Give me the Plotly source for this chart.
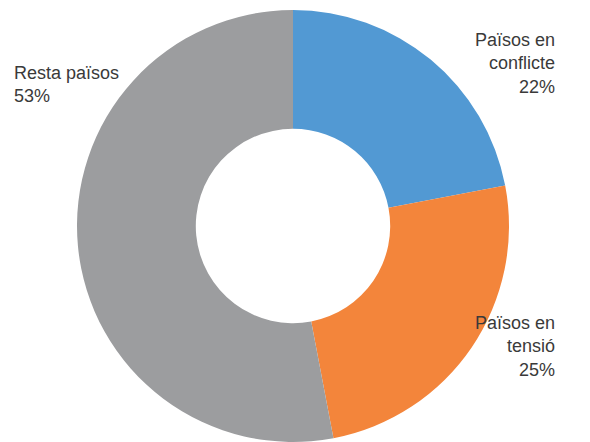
import plotly.graph_objects as go

labels = ["Països en conflicte", "Països en tensió", "Resta països"]
values = [22, 25, 53]
colors = ["#5299D3", "#F3853B", "#9C9D9F"]

W, H = 590, 442
off = 8  # marge del body de la pàgina
cx, cy, r = 293 - off, 226 - off, 216

fig = go.Figure(go.Pie(
    labels=labels, values=values, sort=False, direction="clockwise",
    rotation=0, hole=0.45, textinfo="none", hoverinfo="label+percent",
    marker=dict(colors=colors, line=dict(width=0)),
    domain=dict(x=[(cx - r) / W, (cx + r) / W], y=[0, 1]),
))

# etiquetes fora del donut
ann = [
    ("Països en<br>conflicte<br>22%", 557, 63, "right"),
    ("Països en<br>tensió<br>25%", 557, 352, "right"),
    ("Resta països<br>53%", 12, 84, "left"),
]
for txt, x, y, al in ann:
    fig.add_annotation(text=txt, x=(x - off) / W, y=1 - (y - off) / H,
                       xref="paper", yref="paper",
                       xanchor=al, yanchor="middle", align=al, showarrow=False,
                       font=dict(size=18, color="#3A3A3A"))

fig.update_layout(width=W, height=H, showlegend=False,
                  margin=dict(l=0, r=0, t=cy - r, b=H - (cy + r)),
                  paper_bgcolor="white", plot_bgcolor="white",
                  font=dict(family="Liberation Sans, Arial, sans-serif"))

fig.write_html("out.html")
